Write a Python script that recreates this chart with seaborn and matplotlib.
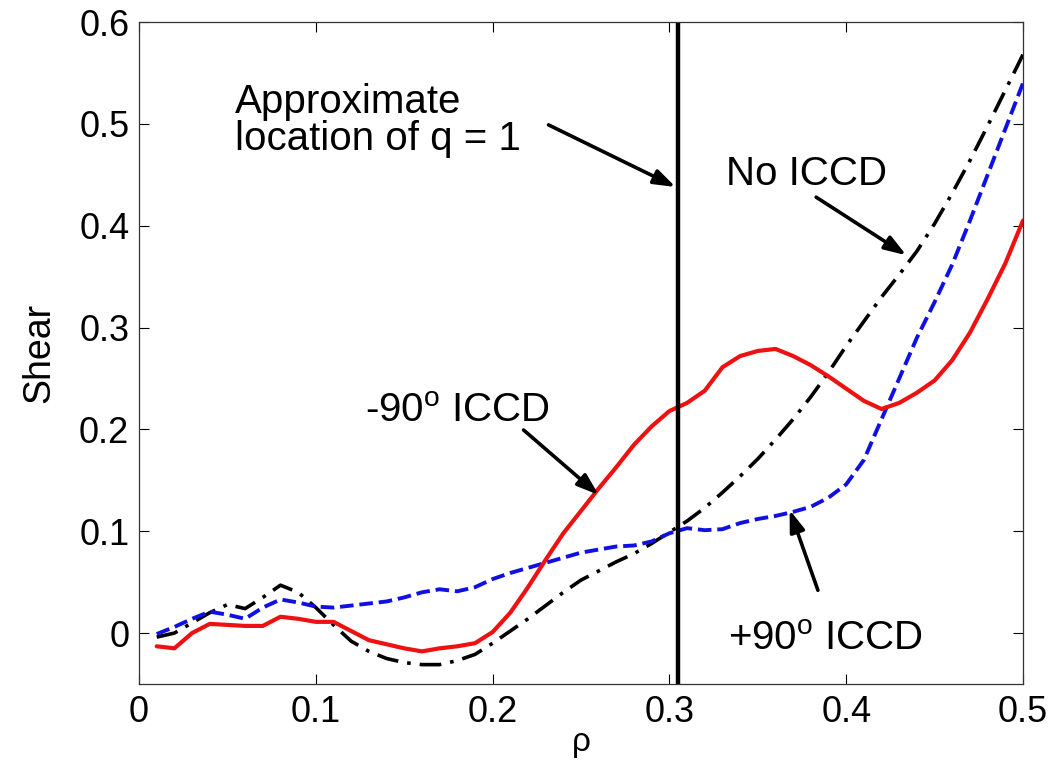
import numpy as np
import pandas as pd
import matplotlib
matplotlib.use("Agg")
import matplotlib.pyplot as plt
import seaborn as sns

# ---- data ----
rho_red = [0.01, 0.02, 0.03, 0.04, 0.05, 0.06, 0.07, 0.08, 0.09, 0.10, 0.11,
           0.12, 0.13, 0.14, 0.15, 0.16, 0.17, 0.18, 0.19, 0.20, 0.21, 0.22,
           0.23, 0.24, 0.25, 0.26, 0.27, 0.28, 0.29, 0.30, 0.31, 0.32, 0.33,
           0.34, 0.35, 0.36, 0.37, 0.38, 0.39, 0.40, 0.41, 0.42, 0.43, 0.44,
           0.45, 0.46, 0.47, 0.48, 0.49, 0.50]
shear_red = [-0.013, -0.015, 0.000, 0.009, 0.008, 0.007, 0.007, 0.016, 0.014, 0.011, 0.011,
             0.002, -0.007, -0.011, -0.015, -0.018, -0.015, -0.013, -0.010, 0.001, 0.020, 0.045,
             0.072, 0.098, 0.120, 0.142, 0.163, 0.185, 0.203, 0.218, 0.226, 0.238, 0.261,
             0.272, 0.277, 0.279, 0.272, 0.263, 0.252, 0.240, 0.228, 0.220, 0.226, 0.236,
             0.248, 0.268, 0.295, 0.328, 0.363, 0.405]

rho_blue = [0.01, 0.02, 0.03, 0.04, 0.05, 0.06, 0.07, 0.08, 0.09, 0.10, 0.11,
            0.12, 0.13, 0.14, 0.15, 0.16, 0.17, 0.18, 0.19, 0.20, 0.21, 0.22,
            0.23, 0.24, 0.25, 0.26, 0.27, 0.28, 0.29, 0.30, 0.31, 0.32, 0.33,
            0.34, 0.35, 0.36, 0.37, 0.38, 0.39, 0.40, 0.41, 0.42, 0.43, 0.44,
            0.45, 0.46, 0.47, 0.48, 0.49, 0.50]
shear_blue = [-0.001, 0.006, 0.014, 0.021, 0.018, 0.014, 0.025, 0.033, 0.030, 0.026, 0.025,
              0.027, 0.029, 0.031, 0.035, 0.040, 0.043, 0.041, 0.045, 0.053, 0.059, 0.064,
              0.069, 0.074, 0.079, 0.082, 0.085, 0.086, 0.090, 0.098, 0.103, 0.101, 0.102,
              0.108, 0.112, 0.115, 0.119, 0.124, 0.133, 0.146, 0.170, 0.210, 0.250, 0.290,
              0.325, 0.362, 0.405, 0.450, 0.495, 0.540]

rho_black = [0.01, 0.02, 0.03, 0.04, 0.05, 0.06, 0.07, 0.08, 0.09, 0.10, 0.11,
             0.12, 0.13, 0.14, 0.15, 0.16, 0.17, 0.18, 0.19, 0.20, 0.21, 0.22,
             0.23, 0.24, 0.25, 0.26, 0.27, 0.28, 0.29, 0.30, 0.31, 0.32, 0.33,
             0.34, 0.35, 0.36, 0.37, 0.38, 0.39, 0.40, 0.41, 0.42, 0.43, 0.44,
             0.45, 0.46, 0.47, 0.48, 0.49, 0.50]
shear_black = [-0.004, 0.000, 0.010, 0.020, 0.028, 0.024, 0.035, 0.047, 0.040, 0.025, 0.008,
               -0.008, -0.018, -0.025, -0.029, -0.031, -0.031, -0.027, -0.021, -0.010, 0.002, 0.014,
               0.027, 0.040, 0.052, 0.061, 0.070, 0.078, 0.088, 0.099, 0.110, 0.123, 0.138,
               0.154, 0.171, 0.190, 0.210, 0.232, 0.256, 0.282, 0.306, 0.330, 0.352, 0.375,
               0.402, 0.432, 0.464, 0.498, 0.533, 0.568]

q1_location = 0.305

x_ticks = [0, 0.1, 0.2, 0.3, 0.4, 0.5]
x_tick_labels = ["0", "0.1", "0.2", "0.3", "0.4", "0.5"]
y_ticks = [0, 0.1, 0.2, 0.3, 0.4, 0.5, 0.6]
y_tick_labels = ["0", "0.1", "0.2", "0.3", "0.4", "0.5", "0.6"]

# ---- style ----
sns.set_style("ticks", {"xtick.direction": "in", "ytick.direction": "in"})
plt.rcParams['font.family'] = ['Liberation Sans', 'DejaVu Sans']
plt.rcParams['text.color'] = 'black'
plt.rcParams['axes.labelcolor'] = 'black'
plt.rcParams['xtick.color'] = 'black'
plt.rcParams['ytick.color'] = 'black'

fig = plt.figure(figsize=(10.59, 7.62), dpi=100)
ax = fig.add_axes([0.1313, 0.1024, 0.8347, 0.8687])

sns.lineplot(x=rho_black, y=shear_black, ax=ax, color="black", lw=2.6,
             linestyle=(0, (6, 2.5, 1, 2.5)), estimator=None, sort=False)
sns.lineplot(x=rho_blue, y=shear_blue, ax=ax, color="#1010e0", lw=2.8,
             linestyle=(0, (3.5, 1.5)), estimator=None, sort=False)
sns.lineplot(x=rho_red, y=shear_red, ax=ax, color="#ee1111", lw=3.0,
             linestyle="-", estimator=None, sort=False)

ax.axvline(q1_location, color="black", lw=3.2)

ax.set_xlim(0, 0.5)
ax.set_ylim(-0.05, 0.6)
ax.set_xticks(x_ticks)
ax.set_xticklabels(x_tick_labels)
ax.set_yticks(y_ticks)
ax.set_yticklabels(y_tick_labels)
ax.tick_params(axis="both", which="both", direction="in", top=True, right=True,
               length=7, width=0.8, labelsize=26, colors="black")
ax.tick_params(axis="x", pad=8)
ax.tick_params(axis="y", pad=7)
for s in ax.spines.values():
    s.set_linewidth(0.9)
    s.set_color("#333333")

ax.set_xlabel("ρ", fontsize=24, labelpad=-2)
ax.set_ylabel("Shear", fontsize=27, labelpad=16)

arrow = dict(arrowstyle="-|>,head_length=1.3,head_width=0.45", color="black", lw=2.6,
             shrinkA=0, shrinkB=0)
fs = 29
ax.annotate("", xy=(0.3035, 0.438), xytext=(0.2316, 0.499), arrowprops=arrow)
ax.text(0.054, 0.511, "Approximate", fontsize=fs, ha="left", va="baseline")
ax.text(0.054, 0.474, "location of q = 1", fontsize=fs, ha="left", va="baseline")

ax.annotate("", xy=(0.434, 0.371), xytext=(0.383, 0.428), arrowprops=arrow)
ax.text(0.332, 0.44, "No ICCD", fontsize=fs, ha="left", va="baseline")

ax.annotate("", xy=(0.26, 0.1356), xytext=(0.2175, 0.1994), arrowprops=arrow)
ax.text(0.128, 0.207, "-90$^\\mathregular{o}$ ICCD", fontsize=fs, ha="left", va="baseline")

ax.annotate("", xy=(0.368, 0.121), xytext=(0.384, 0.042), arrowprops=arrow)
ax.text(0.333, -0.0167, "+90$^\\mathregular{o}$ ICCD", fontsize=fs, ha="left", va="baseline")

fig.savefig("out.png", dpi=100)
